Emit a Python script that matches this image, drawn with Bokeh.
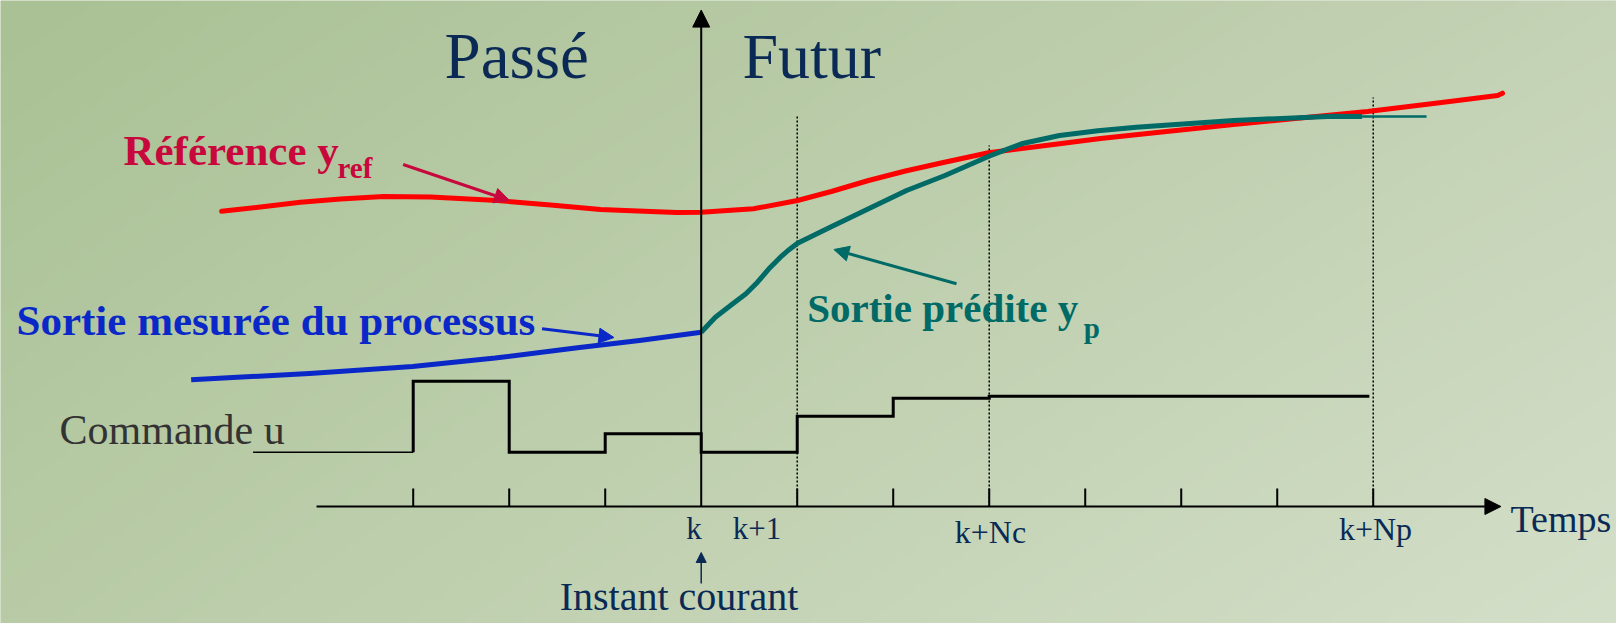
import numpy as np
from bokeh.plotting import figure
from bokeh.models import Range1d, Arrow, NormalHead
from bokeh.core.properties import value
from bokeh.embed import file_html
from bokeh.resources import INLINE

# ---------------- data (time steps relative to k, amplitudes in arbitrary units) ----------------
ref_t = [-4.996, -4.591, -4.174, -3.758, -3.309, -2.820, -2.122, -1.570, -1.049, -0.528, -0.252,
         0.0, 0.545, 1.003, 1.355, 1.743, 2.127, 2.534, 2.993, 3.732, 4.159, 4.847, 5.545,
         6.243, 6.941, 7.628, 8.296, 8.347]
ref_y = [295.3, 299.5, 304.3, 307.5, 310.0, 309.5, 306.0, 301.5, 297.0, 295.0, 294.0,
         294.3, 297.7, 306.0, 315.0, 326.0, 335.5, 344.3, 353.7, 362.7, 368.0, 375.0, 382.0,
         388.5, 395.0, 403.0, 411.0, 413.3]

meas_t = [-5.313, -4.080, -3.007, -2.146, -1.289, -0.643, 0.0]
meas_y = [126.7, 133.0, 140.0, 148.4, 158.7, 166.0, 174.3]

pred_t = [0.0, 0.147, 0.305, 0.466, 0.586, 0.705, 0.825, 0.904, 1.003, 1.343, 1.743, 2.139,
          2.539, 2.997, 3.336, 3.732, 4.133, 4.532, 5.545, 6.586, 6.885]
pred_y = [174.3, 189.3, 201.0, 212.7, 224.3, 237.7, 249.3, 256.0, 263.3, 279.3, 297.7, 316.0,
          331.0, 350.3, 362.7, 371.0, 375.7, 379.3, 386.0, 390.3, 390.0]
pred_tail_t = [6.885, 7.555]
pred_tail_y = [390.0, 390.0]

u_t = [-4.668, -3, -2, -1, 0, 1, 2, 3, 6.96]
u_y = [54.3, 125.3, 54.3, 72.7, 54.3, 90.3, 108.3, 110.3, 110.3]

tick_steps = [-3, -2, -1, 1, 2, 3, 4, 5, 6, 7]
horizon_steps = [1, 3, 7]
horizon_tops = [391, 361, 409]
tick_labels = ["k", "k+1", "k+Nc", "k+Np"]

# ---------------- figure ----------------
W, H = 1616, 623
X0, X1 = -7.299, 9.534
Y0, Y1 = -117.0, 506.0
p = figure(width=W, height=H, x_range=Range1d(X0, X1), y_range=Range1d(Y0, Y1),
           x_axis_type=None, y_axis_type=None, toolbar_location=None,
           output_backend="svg", min_border=0, outline_line_color=None)
p.background_fill_color = "#BFCFAE"
p.border_fill_color = "#BFCFAE"

# gradient background (decoration)
nx, ny = 404, 156
tl = np.array([169, 193, 148]); tr = np.array([196, 210, 181])
bl = np.array([184, 203, 166]); br = np.array([212, 223, 201])
u = np.linspace(0, 1, nx)[None, :, None]
v = np.linspace(1, 0, ny)[:, None, None]  # row 0 = bottom
col = (tl * (1 - u) * (1 - v) + tr * u * (1 - v) + bl * (1 - u) * v + br * u * v)
img = np.empty((ny, nx), dtype=np.uint32)
view = img.view(dtype=np.uint8).reshape((ny, nx, 4))
view[:, :, :3] = col.astype(np.uint8)
view[:, :, 3] = 255
p.image_rgba(image=[img], x=X0, y=Y0, dw=X1 - X0, dh=Y1 - Y0)

NAVY = "#0A2A55"
RED = "#FF0000"
CRIMSON = "#C8083C"
BLUE = "#0A28C8"
TEAL = "#006A66"
SERIF = value("Liberation Serif")

# dotted horizon lines
p.segment(x0=horizon_steps, y0=[0] * 3, x1=horizon_steps, y1=horizon_tops,
          line_color="black", line_width=1.5, line_dash="2 2")

# time axis and ticks
p.add_layout(Arrow(end=NormalHead(size=16, fill_color="black", line_color="black"),
                   x_start=-4.007, y_start=0, x_end=8.33, y_end=0,
                   line_color="black", line_width=2))
p.segment(x0=tick_steps, y0=[0] * len(tick_steps), x1=tick_steps, y1=[18] * len(tick_steps),
          line_color="black", line_width=2)
# vertical "now" axis
p.add_layout(Arrow(end=NormalHead(size=17, fill_color="black", line_color="black"),
                   x_start=0, y_start=0, x_end=0, y_end=496.4,
                   line_color="black", line_width=2))

# control input u
p.line(x=[u_t[0], u_t[1]], y=[u_y[0], u_y[0]], line_color="black", line_width=1.5)
p.step(x=[u_t[1]] + u_t[1:], y=[u_y[0]] + u_y[1:], mode="after",
       line_color="black", line_width=3, line_join="miter")

# curves
p.line(ref_t, ref_y, line_color=RED, line_width=5, line_join="round", line_cap="round")
p.line(meas_t, meas_y, line_color=BLUE, line_width=5, line_join="round")
p.line(pred_t, pred_y, line_color=TEAL, line_width=5, line_join="round")
p.line(pred_tail_t, pred_tail_y, line_color=TEAL, line_width=2.5)

# annotation arrows
p.add_layout(Arrow(end=NormalHead(size=15, fill_color=CRIMSON, line_color=CRIMSON),
                   x_start=-3.105, y_start=342, x_end=-1.997, y_end=306,
                   line_color=CRIMSON, line_width=3))
p.add_layout(Arrow(end=NormalHead(size=15, fill_color=BLUE, line_color=BLUE),
                   x_start=-1.658, y_start=177.7, x_end=-0.909, y_end=169,
                   line_color=BLUE, line_width=3))
p.add_layout(Arrow(end=NormalHead(size=15, fill_color=TEAL, line_color=TEAL),
                   x_start=2.659, y_start=222.7, x_end=1.382, y_end=257,
                   line_color=TEAL, line_width=3))
p.add_layout(Arrow(end=NormalHead(size=10, fill_color=NAVY, line_color=NAVY),
                   x_start=0, y_start=-77, x_end=0, y_end=-46,
                   line_color=NAVY, line_width=1.5))

# texts (y given at the desired baseline; shifted for the renderer's baseline handling)
def txt(x, y, s, size, color, style="normal", align="left"):
    p.text(x=[x], y=[y + 0.38 * size], text=[s], text_font=SERIF,
           text_font_size=f"{size}px", text_color=color, text_font_style=style,
           text_align=align, text_baseline="alphabetic")

txt(-2.674, 426, "Passé", 65, NAVY)
txt(0.43, 426, "Futur", 64, NAVY)
txt(-6.018, 339.3, "Référence y", 43, CRIMSON, "bold")
txt(-3.789, 327.7, "ref", 29, CRIMSON, "bold")
txt(-7.132, 170, "Sortie mesurée du processus", 43, BLUE, "bold")
txt(1.104, 182.7, "Sortie prédite y", 41, TEAL, "bold")
txt(3.985, 167, "p", 29, TEAL, "bold")
txt(-6.684, 61, "Commande u", 42, "#333333")
txt(-0.074, -34, tick_labels[0], 31, NAVY, align="center")
txt(0.581, -34, tick_labels[1], 31, NAVY, align="center")
txt(3.013, -38, tick_labels[2], 32, NAVY, align="center")
txt(7.024, -35, tick_labels[3], 32, NAVY, align="center")
txt(8.43, -27, "Temps", 38, NAVY)
txt(-0.231, -105, "Instant courant", 40, NAVY, align="center")

open("out.html", "w").write(file_html(p, INLINE))
